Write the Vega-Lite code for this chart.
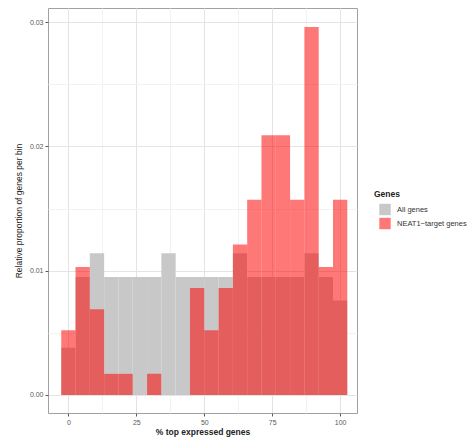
{
  "$schema": "https://vega.github.io/schema/vega-lite/v6.json",
  "width": 309,
  "height": 405,
  "autosize": {"type": "none"},
  "padding": {"left": 48, "top": 8, "right": 115, "bottom": 30},
  "background": "white",
  "config": {
    "font": "Liberation Sans",
    "view": {"stroke": "#a0a0a0", "strokeWidth": 1}
  },
  "data": {
    "values": [
      {"Genes": "All genes", "start": -2.63, "end": 2.63, "prop": 0.0038},
      {"Genes": "All genes", "start": 2.63, "end": 7.89, "prop": 0.0095},
      {"Genes": "All genes", "start": 7.89, "end": 13.16, "prop": 0.0114},
      {"Genes": "All genes", "start": 13.16, "end": 18.42, "prop": 0.0095},
      {"Genes": "All genes", "start": 18.42, "end": 23.68, "prop": 0.0095},
      {"Genes": "All genes", "start": 23.68, "end": 28.95, "prop": 0.0095},
      {"Genes": "All genes", "start": 28.95, "end": 34.21, "prop": 0.0095},
      {"Genes": "All genes", "start": 34.21, "end": 39.47, "prop": 0.0114},
      {"Genes": "All genes", "start": 39.47, "end": 44.74, "prop": 0.0095},
      {"Genes": "All genes", "start": 44.74, "end": 50.0, "prop": 0.0095},
      {"Genes": "All genes", "start": 50.0, "end": 55.26, "prop": 0.0095},
      {"Genes": "All genes", "start": 55.26, "end": 60.53, "prop": 0.0095},
      {"Genes": "All genes", "start": 60.53, "end": 65.79, "prop": 0.0114},
      {"Genes": "All genes", "start": 65.79, "end": 71.05, "prop": 0.0095},
      {"Genes": "All genes", "start": 71.05, "end": 76.32, "prop": 0.0095},
      {"Genes": "All genes", "start": 76.32, "end": 81.58, "prop": 0.0095},
      {"Genes": "All genes", "start": 81.58, "end": 86.84, "prop": 0.0095},
      {"Genes": "All genes", "start": 86.84, "end": 92.11, "prop": 0.0114},
      {"Genes": "All genes", "start": 92.11, "end": 97.37, "prop": 0.0095},
      {"Genes": "All genes", "start": 97.37, "end": 102.63, "prop": 0.0076},
      {"Genes": "NEAT1\u2212target genes", "start": -2.63, "end": 2.63, "prop": 0.0052},
      {"Genes": "NEAT1\u2212target genes", "start": 2.63, "end": 7.89, "prop": 0.0103},
      {"Genes": "NEAT1\u2212target genes", "start": 7.89, "end": 13.16, "prop": 0.0069},
      {"Genes": "NEAT1\u2212target genes", "start": 13.16, "end": 18.42, "prop": 0.0017},
      {"Genes": "NEAT1\u2212target genes", "start": 18.42, "end": 23.68, "prop": 0.0017},
      {"Genes": "NEAT1\u2212target genes", "start": 23.68, "end": 28.95, "prop": 0},
      {"Genes": "NEAT1\u2212target genes", "start": 28.95, "end": 34.21, "prop": 0.0017},
      {"Genes": "NEAT1\u2212target genes", "start": 34.21, "end": 39.47, "prop": 0},
      {"Genes": "NEAT1\u2212target genes", "start": 39.47, "end": 44.74, "prop": 0},
      {"Genes": "NEAT1\u2212target genes", "start": 44.74, "end": 50.0, "prop": 0.0086},
      {"Genes": "NEAT1\u2212target genes", "start": 50.0, "end": 55.26, "prop": 0.0052},
      {"Genes": "NEAT1\u2212target genes", "start": 55.26, "end": 60.53, "prop": 0.0086},
      {"Genes": "NEAT1\u2212target genes", "start": 60.53, "end": 65.79, "prop": 0.0121},
      {"Genes": "NEAT1\u2212target genes", "start": 65.79, "end": 71.05, "prop": 0.0157},
      {"Genes": "NEAT1\u2212target genes", "start": 71.05, "end": 76.32, "prop": 0.0209},
      {"Genes": "NEAT1\u2212target genes", "start": 76.32, "end": 81.58, "prop": 0.0209},
      {"Genes": "NEAT1\u2212target genes", "start": 81.58, "end": 86.84, "prop": 0.0157},
      {"Genes": "NEAT1\u2212target genes", "start": 86.84, "end": 92.11, "prop": 0.0296},
      {"Genes": "NEAT1\u2212target genes", "start": 92.11, "end": 97.37, "prop": 0.0103},
      {"Genes": "NEAT1\u2212target genes", "start": 97.37, "end": 102.63, "prop": 0.0157}
    ]
  },
  "mark": {"type": "bar", "strokeWidth": 0},
  "encoding": {
    "x": {
      "field": "start",
      "type": "quantitative",
      "scale": {"domain": [-7.5, 106.2], "nice": false, "zero": false},
      "axis": {
        "title": "% top expressed genes",
        "values": [0, 12.5, 25, 37.5, 50, 62.5, 75, 87.5, 100],
        "labelExpr": "datum.value % 25 == 0 ? datum.label : ''",
        "labelFontSize": 7,
        "labelColor": "#5a5a5a",
        "labelPadding": 2,
        "tickSize": 3,
        "tickColor": "#5a5a5a",
        "tickOpacity": {"condition": {"test": "datum.value % 25 != 0", "value": 0}, "value": 1},
        "gridColor": {"condition": {"test": "datum.value % 25 != 0", "value": "#f2f2f2"}, "value": "#e4e4e4"},
        "domain": false,
        "titleFontSize": 8.5,
        "titleFontWeight": "bold",
        "titleColor": "#222222",
        "titlePadding": 2
      }
    },
    "x2": {"field": "end"},
    "y": {
      "field": "prop",
      "type": "quantitative",
      "scale": {"domain": [-0.00145, 0.03113], "nice": false, "zero": false},
      "axis": {
        "title": "Relative proportion of genes per bin",
        "values": [0, 0.005, 0.01, 0.015, 0.02, 0.025, 0.03],
        "labelExpr": "(round(datum.value * 1000) % 10 == 0) ? format(datum.value, '.2f') : ''",
        "labelFontSize": 7,
        "labelColor": "#5a5a5a",
        "labelPadding": 2,
        "tickSize": 3,
        "tickColor": "#5a5a5a",
        "tickOpacity": {"condition": {"test": "round(datum.value * 1000) % 10 != 0", "value": 0}, "value": 1},
        "gridColor": {"condition": {"test": "round(datum.value * 1000) % 10 != 0", "value": "#f2f2f2"}, "value": "#e4e4e4"},
        "domain": false,
        "titleFontSize": 8.5,
        "titleFontWeight": "normal",
        "titleColor": "#222222",
        "titlePadding": 6
      }
    },
    "y2": {"datum": 0},
    "color": {
      "field": "Genes",
      "type": "nominal",
      "scale": {"domain": ["All genes", "NEAT1\u2212target genes"], "range": ["#c8c8c8", "#ff0000"]},
      "legend": {
        "orient": "none",
        "legendX": 326,
        "legendY": 182,
        "title": "Genes",
        "titleFontSize": 8.5,
        "titleFontWeight": "bold",
        "titleColor": "#222222",
        "titlePadding": 5,
        "symbolType": "square",
        "symbolSize": 130,
        "symbolStrokeWidth": 0,
        "symbolOffset": 5,
        "labelFontSize": 7.5,
        "labelColor": "#333333",
        "labelOffset": 6,
        "rowPadding": 2
      }
    },
    "opacity": {
      "field": "Genes",
      "type": "nominal",
      "scale": {"domain": ["All genes", "NEAT1\u2212target genes"], "range": [1, 0.53]}
    }
  }
}
